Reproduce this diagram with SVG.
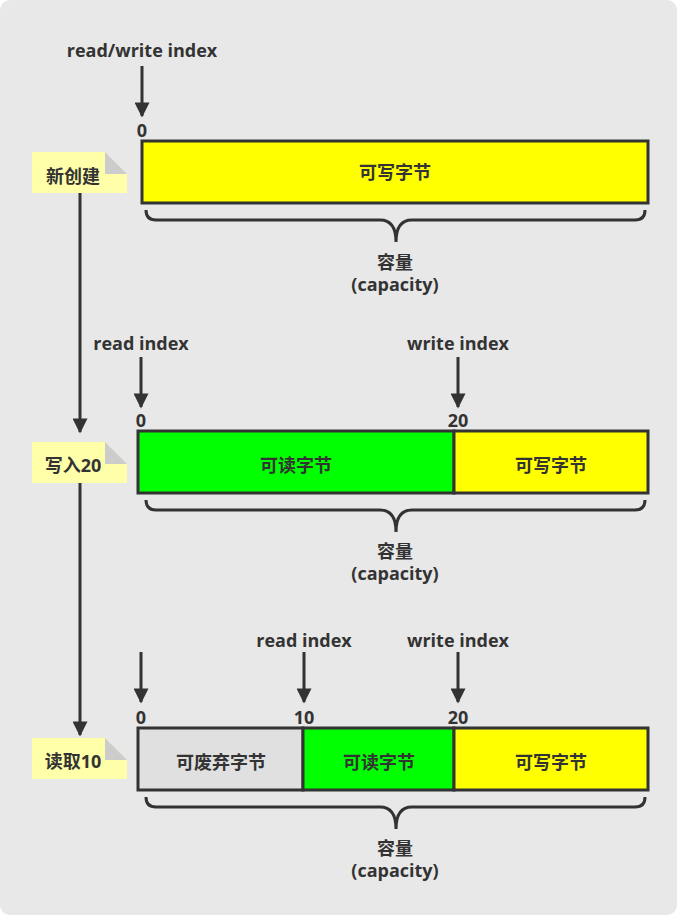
<svg xmlns="http://www.w3.org/2000/svg" width="677" height="915" viewBox="0 0 677 915">
<defs>
<marker id="ah" viewBox="0 0 10 10" refX="9" refY="5" markerWidth="6" markerHeight="5" orient="auto" markerUnits="strokeWidth">
<path d="M0,0 L10,5 L0,10 z" fill="#333"/>
</marker>
<style>
text{font-family:"Open Sans","Noto Sans CJK SC",sans-serif;font-weight:bold;font-size:18px;fill:#333;text-anchor:middle;dominant-baseline:central}
.ar{stroke:#333;stroke-width:3;fill:none;marker-end:url(#ah)}
.box{stroke:#333;stroke-width:3}
.brace{stroke:#333;stroke-width:3;fill:none}
.note{fill:#ffffaa}
.fold{fill:#cccccc}
</style>
</defs>
<rect x="0" y="0" width="677" height="915" rx="10" fill="#e8e8e8"/>

<g id="connectors">
<line class="ar" x1="80" y1="193" x2="80" y2="432"/>
<line class="ar" x1="80" y1="483" x2="80" y2="735"/>
<line class="ar" x1="142" y1="66" x2="142" y2="116"/>
<line class="ar" x1="141" y1="357" x2="141" y2="407"/>
<line class="ar" x1="458" y1="357" x2="458" y2="407"/>
<line class="ar" x1="141" y1="652" x2="141" y2="702"/>
<line class="ar" x1="304" y1="652" x2="304" y2="702"/>
<line class="ar" x1="458" y1="652" x2="458" y2="702"/>
</g>

<g id="note1">
<path class="note" d="M32,152 H105 L127,174 V193 H32 z"/>
<path class="fold" d="M105,152 L127,174 H105 z"/>
<text x="73" y="176">新创建</text>
</g>
<g id="note2">
<path class="note" d="M32,442 H105 L127,464 V483 H32 z"/>
<path class="fold" d="M105,442 L127,464 H105 z"/>
<text x="73" y="465">写入20</text>
</g>
<g id="note3">
<path class="note" d="M32,738 H105 L127,760 V779 H32 z"/>
<path class="fold" d="M105,738 L127,760 H105 z"/>
<text x="73" y="761">读取10</text>
</g>

<g id="row1">
<text x="142" y="50">read/write index</text>
<text x="142" y="130">0</text>
<rect class="box" x="142" y="141" width="506" height="62" fill="#ffff00"/>
<text x="395" y="172">可写字节</text>
<path class="brace" d="M146,210 Q146,220 156,220 H380 Q396,220 396,242 Q396,220 412,220 H635 Q645,220 645,210"/>
<text x="395" y="262">容量</text>
<text x="395" y="284">(capacity)</text>
</g>

<g id="row2">
<text x="141" y="343">read index</text>
<text x="458" y="343">write index</text>
<text x="141" y="420">0</text>
<text x="458" y="420">20</text>
<rect class="box" x="138" y="431" width="316" height="62" fill="#00ff00"/>
<rect class="box" x="454" y="431" width="194" height="62" fill="#ffff00"/>
<text x="296" y="465">可读字节</text>
<text x="551" y="465">可写字节</text>
<path class="brace" d="M146,500 Q146,510 156,510 H380 Q396,510 396,532 Q396,510 412,510 H635 Q645,510 645,500"/>
<text x="395" y="551">容量</text>
<text x="395" y="573">(capacity)</text>
</g>

<g id="row3">
<text x="304" y="640">read index</text>
<text x="458" y="640">write index</text>
<text x="141" y="717">0</text>
<text x="304" y="717">10</text>
<text x="458" y="717">20</text>
<rect class="box" x="138" y="728" width="165" height="62" fill="#e0e0e0"/>
<rect class="box" x="303" y="728" width="151" height="62" fill="#00ff00"/>
<rect class="box" x="454" y="728" width="194" height="62" fill="#ffff00"/>
<text x="221" y="762">可废弃字节</text>
<text x="379" y="762">可读字节</text>
<text x="551" y="762">可写字节</text>
<path class="brace" d="M146,797 Q146,807 156,807 H380 Q396,807 396,829 Q396,807 412,807 H635 Q645,807 645,797"/>
<text x="395" y="848">容量</text>
<text x="395" y="870">(capacity)</text>
</g>
</svg>
